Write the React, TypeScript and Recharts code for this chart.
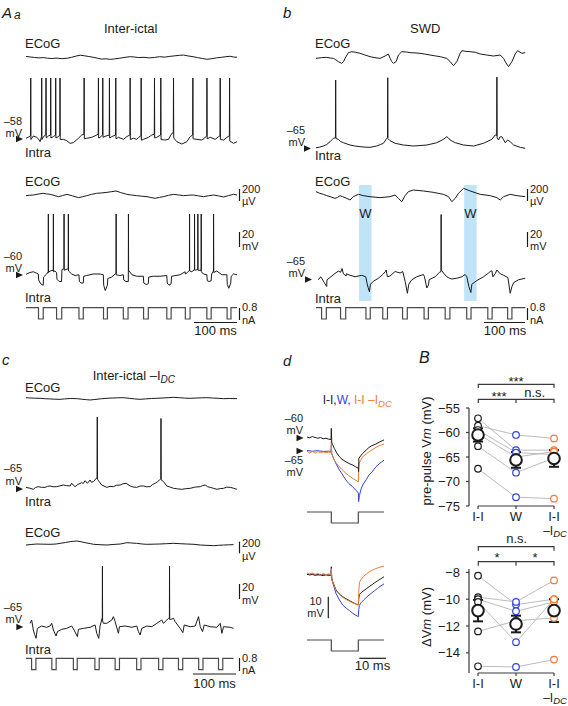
import {
  LineChart,
  Line,
  XAxis,
  YAxis,
  ReferenceArea,
  ReferenceLine,
  ComposedChart,
  Scatter,
  ErrorBar,
} from 'recharts'

const FONT = '"Liberation Sans", Arial, Helvetica, sans-serif'
const INK = '#1a1a1a'
const STIM = '#4a4a4a'
const BLUE = '#3344d6'
const ORANGE = '#ef7b35'
const BAND = '#c0e4f7'
const AX = '#3a3a3a'
const PAIR = '#bcbcbc'

type Pt = [number, number]

// ── A/b/c traces: time in ms, ECoG in µV, Intra in mV, current in nA ──
const aaEcogTop: Pt[] = [[0,10],[10,0],[20,-8],[30,-15],[40,-10],[50,-20],[60,-25],[72,-18],[84,-28],[96,-20],[106,-5],[116,15],[126,30],[136,20],[146,8],[156,-5],[166,-20],[176,-35],[186,-30],[196,-40],[206,-32],[218,-20],[230,-5],[242,5],[252,0],[262,-10],[274,-5],[286,-15],[298,-8],[310,5],[322,-2],[334,10],[346,20],[356,28],[366,32],[376,18],[388,5],[398,-10],[410,-25],[420,-38],[430,-30],[442,-15],[454,-5],[464,5],[474,12],[482,0],[490,-5]]

const aaIntraTop: Pt[] = [[0,-58.4],[5,-57],[10.5,-55],[11,22],[11.5,-60],[17,-55.3],[24.8,-57.1],[30,-60],[32.6,-62.9],[36,-56],[36.5,22],[37,-60],[40.3,-56.2],[46,-54],[46.5,22],[47,-58],[51.9,-55.3],[57,-54],[57.4,22],[57.9,-58],[63.6,-56.2],[68.5,-54],[69,22],[69.5,-58],[75.2,-56.2],[78.5,-54],[79,22],[79.5,-60],[86.8,-59.8],[94.6,-61.6],[102.3,-65.1],[110,-64.2],[121.7,-58.4],[129.4,-54],[134.5,-53],[135,22],[135.5,-59],[141,-58.4],[152.7,-57.1],[164.3,-54],[167.7,-53],[168.2,22],[168.7,-58],[172,-57.1],[177.8,-54],[178.3,22],[178.8,-57],[186,-55.3],[193.3,-54],[193.8,22],[194.3,-58],[199.2,-56.2],[208,-54],[208.5,22],[209,-59],[214.7,-57.1],[226.3,-59.8],[234,-56.2],[241.3,-54],[241.8,22],[242.3,-60],[249.6,-58.4],[257.3,-59.8],[262,-57],[267,-55],[267.4,22],[267.9,-61],[272.8,-59.8],[284.4,-57.1],[292.2,-54],[297.9,-53],[298.4,22],[298.9,-58],[303.8,-57.1],[312.6,-54],[313.1,22],[313.6,-60],[323.2,-60.7],[331,-59.8],[338.7,-51.8],[342.1,-51],[342.6,22],[343.1,-58],[350.3,-62.9],[361.9,-66],[373.6,-62.9],[381.3,-56.2],[387,-54],[387.5,22],[388,-59],[396.8,-59.8],[408.4,-60.7],[415,-58],[419.7,-55],[420.2,22],[420.7,-59],[427.8,-57.1],[439.4,-59.8],[447.2,-56.2],[450.5,-55],[451,22],[451.5,-60],[458.8,-60.7],[466.6,-57.1],[472.3,-55],[472.8,22],[473.3,-62],[482,-65.1],[490,-62.9]]

const aaEcogBot: Pt[] = [[0,-11],[8,-5],[17,0],[28,15],[40,28],[48,18],[56,11],[65,-5],[75,-28],[85,-10],[95,11],[108,-15],[122,-44],[131,-30],[141,-11],[152,10],[164,28],[176,35],[188,44],[198,55],[209,67],[220,40],[234,11],[245,0],[257,-11],[269,-20],[281,-28],[290,-42],[300,-55],[310,-40],[319,-28],[331,-5],[343,11],[355,0],[366,-11],[378,-3],[389,0],[400,-15],[412,-28],[424,-12],[436,0],[447,-15],[459,-33],[470,-10],[482,11],[490,0]]

const aaIntraBot: Pt[] = [[0,-60.4],[9,-58],[17,-57],[25,-59],[28.5,-60],[29.5,-68],[34,-73],[40,-75],[40.8,-64],[48,-60],[51.5,-57],[51.9,20],[52.3,-58],[56,-56],[63.3,-55],[63.6,20],[64,-57],[67,-56],[71,-58],[72,-67],[77,-70],[82.5,-70],[83.5,-54],[88,-53],[88.4,20],[88.8,-55],[93,-54],[98,-53],[98.4,20],[98.8,-56],[106,-60],[114,-62],[123,-61],[124,-70],[128,-72],[133,-72],[134,-63],[141,-62],[156,-60],[172,-60],[179.5,-61],[180.5,-75],[184,-82],[189,-75],[190,-66],[199,-64],[209,-59],[209.3,20],[209.7,-61],[218,-62],[226,-61],[227,-68],[232,-70],[237.6,-70],[237.9,20],[238.3,-55],[246,-61],[257,-63],[272.5,-63],[273.5,-72],[279,-74],[284,-73],[285,-64],[296,-63],[311,-63],[327,-62],[328,-72],[332,-75],[337,-73],[338,-63],[358,-61],[369.5,-57],[370,-60],[375,-58],[379.6,-55],[379.8,20],[380.1,-56],[385,-57],[391.2,-54],[391.4,20],[391.7,-55],[399,-54],[399.1,20],[399.4,-55],[406.7,-55],[406.9,20],[407.2,-57],[412,-60],[420,-61],[421,-69],[425,-70],[430,-69],[431,-60],[435.4,-56],[435.6,20],[436,-58],[443,-56],[455,-61],[466.5,-61],[467.5,-74],[471,-79],[475.5,-72],[476.5,-63],[482,-60],[491,-61]]

const aaStim: Pt[] = [[0,0],[29,0],[29,-0.8],[40,-0.8],[40,0],[71,0],[71,-0.8],[83,-0.8],[83,0],[123,0],[123,-0.8],[133,-0.8],[133,0],[180,0],[180,-0.8],[189,-0.8],[189,0],[226,0],[226,-0.8],[237,-0.8],[237,0],[273,0],[273,-0.8],[284,-0.8],[284,0],[327,0],[327,-0.8],[337,-0.8],[337,0],[370,0],[370,-0.8],[381,-0.8],[381,0],[420,0],[420,-0.8],[430,-0.8],[430,0],[467,0],[467,-0.8],[476,-0.8],[476,0],[490,0]]

const bEcogTop: Pt[] = [[0,-6],[12,5],[24.8,11],[33,0],[40.3,-6],[46,-30],[51.9,-61],[59.7,-89],[64,-60],[67.4,-6],[72,50],[75.2,89],[82.9,105],[92,95],[102.3,78],[114,50],[125.6,22],[137,5],[148.8,-6],[160.4,33],[168.2,67],[172,-6],[176,-60],[179.8,-89],[186,-61],[191.4,50],[199.2,105],[210,100],[218.6,89],[230,85],[241.8,78],[253,65],[265,50],[277,35],[288.3,22],[303.8,-6],[311.6,-61],[319.3,-128],[327,-61],[334.8,78],[338.7,122],[348,110],[358,105],[370,95],[381.3,67],[396,50],[412.3,33],[427.8,50],[435.6,-6],[441,-80],[447.2,-144],[454.9,-61],[462.7,67],[468.1,122],[478.2,78],[485.9,89]]

const bIntraTop: Pt[] = [[0,-63.3],[8,-62.5],[17,-61],[25,-59],[32.6,-55.3],[40.3,-50.8],[45.2,-50],[45.7,27],[46.2,-51],[51.9,-52.1],[57,-55],[63.6,-56.6],[79,-59.7],[90,-61],[102.3,-61.9],[114,-62.5],[125.6,-62.8],[141,-61],[150,-59],[156.6,-57.4],[162.8,-52.1],[166.1,-50],[166.6,30],[167.1,-51],[172,-53.9],[183.7,-57.4],[203,-59.7],[226.3,-61],[257.3,-59.7],[280.6,-56.6],[296,-52.1],[303.8,-48.6],[307,-50],[311.6,-53],[323.2,-56.6],[342.6,-59.7],[365.8,-61],[389,-57.4],[408.4,-52.1],[416.2,-46.3],[419.6,-47],[420.1,31],[420.6,-50],[424,-53],[427,-49],[431.7,-48.6],[435,-52],[439.4,-56.6],[445,-53],[451,-55.3],[458.8,-59.7],[474.3,-62.8],[485.9,-64.1]]

const bEcogBot: Pt[] = [[0,56],[8,30],[17,11],[25,-10],[32.6,-28],[44.2,-56],[50,-40],[55.8,-11],[62,-30],[67.4,-44],[74,-65],[79,-83],[86.8,-28],[98.4,11],[110,-11],[125.6,-28],[148.8,-44],[172,-28],[183.7,0],[191.4,-56],[199.2,-111],[206.9,-11],[214.7,56],[226.3,83],[249.6,67],[272.8,44],[296,11],[307.7,-28],[315.4,-111],[323.2,-56],[330.9,28],[342.6,111],[358,67],[381.3,11],[404.6,-11],[420,-44],[427.8,-83],[435.6,-28],[451,11],[466.6,-11],[485.9,-28]]

const bIntraBot: Pt[] = [[5.4,-66],[10.9,-62],[13.2,-64],[19.4,-70],[24.8,-75],[25.6,-66],[32.6,-63],[44.2,-57.5],[51.9,-54.5],[57.4,-56],[60.5,-51],[63.6,-58],[69.8,-61],[70.5,-58],[79,-60],[90.7,-62],[106.2,-60],[115.5,-62],[119.4,-73],[124,-82],[126.4,-72],[133.3,-68],[145,-64],[155,-59],[161.2,-55],[162.8,-53],[165.9,-62],[172,-61],[183.7,-55],[195.3,-57],[201.5,-55],[206.9,-68],[212.3,-84],[215.4,-72],[222.4,-66],[234,-62],[249.6,-59],[251.9,-62],[257.3,-77],[261.2,-73],[262.7,-66],[276.7,-62],[286.8,-56],[290.3,-55],[290.6,21],[291,-53],[296,-57],[303.8,-62],[310,-64],[315.4,-65],[327,-64],[338.7,-62],[346.4,-59],[350.3,-62],[355,-75],[359.6,-83],[361.9,-72],[373.6,-67],[389.1,-62],[400.7,-57],[404.6,-55],[408.4,-54],[410.7,-62],[416.2,-58],[420,-53],[427.8,-58],[435.6,-60],[445.6,-63],[451,-84],[455,-75],[458.8,-70],[470.4,-66],[485.9,-64]]

const bStim: Pt[] = [[0,0],[13,0],[13,-0.8],[24,-0.8],[24,0],[57,0],[57,-0.8],[69,-0.8],[69,0],[116,0],[116,-0.8],[126,-0.8],[126,0],[155,0],[155,-0.8],[166,-0.8],[166,0],[201,0],[201,-0.8],[212,-0.8],[212,0],[251,0],[251,-0.8],[261,-0.8],[261,0],[300,0],[300,-0.8],[311,-0.8],[311,0],[350,0],[350,-0.8],[360,-0.8],[360,0],[399,0],[399,-0.8],[409,-0.8],[409,0],[445,0],[445,-0.8],[455,-0.8],[455,0],[486,0]]

// W windows on the SWD trace (ms)
const wStart = [100, 344]
const wEnd = [129, 373]

const cEcogTop: Pt[] = [[0,5],[10,0],[20,-3],[32.6,-5],[45,-12],[55,-15],[67,-20],[79,-22],[90,-15],[104,-8],[118,-11],[130,-20],[140,-28],[149,-33],[160,-25],[175,-12],[188,-5],[200,0],[213,3],[226,5],[240,-5],[252,-15],[265,-22],[278,-15],[291,-8],[304,-5],[316,0],[330,5],[343,11],[356,5],[368,-2],[381,-5],[395,0],[408,3],[420,5],[433,0],[446,-5],[459,-11],[472,-8],[490,-11]]

const cIntraTop: Pt[] = [[0,-62.8],[8,-63.8],[17,-65.4],[22,-63],[28.7,-61.9],[36,-62.8],[44.2,-62.8],[50,-61.5],[55.8,-61],[63,-62],[71.3,-61.9],[78,-61],[86.8,-59.7],[94,-60.5],[102.3,-61],[106.2,-57.4],[110,-60],[113.9,-61.9],[120,-59],[129.4,-56.6],[133,-57.5],[137.2,-53.9],[142.6,-57.4],[148.8,-53],[152,-56],[156.6,-55.2],[160,-53],[162.8,-50.8],[165,-50.5],[165.5,31],[166,-52],[168.2,-53.9],[175.9,-59.7],[187.6,-62.8],[195,-61.5],[203,-61.9],[210,-60],[218.6,-59.7],[225,-58],[232.5,-57.4],[241.8,-61],[250,-62.5],[257.3,-62.8],[265,-61],[272.8,-61],[280,-62],[288.3,-61.9],[294,-59],[299.9,-57.4],[306,-55],[310,-53],[313,-51.5],[313.5,29],[314,-53],[319.3,-55.2],[327,-61],[335,-62.5],[342.6,-64.1],[352,-64.8],[361.9,-65.4],[371,-64.6],[381.3,-64.1],[392,-62.5],[404.6,-61.9],[410,-60.5],[416.2,-59.7],[422,-62],[427.8,-62.8],[435,-64],[443.3,-65.4],[451,-64.5],[458.8,-64.1],[466,-62.5],[474.3,-62.8],[482,-64],[489.8,-65.4]]

const cEcogBot: Pt[] = [[0,-17],[12,-8],[24.8,0],[40,-3],[55.8,-5],[70,0],[79,11],[92,25],[102.3,39],[110,45],[118,50],[128,38],[137.2,22],[150,5],[157,-5],[172,-12],[188,-17],[202,-8],[219,0],[234,22],[243,18],[257,11],[270,0],[280,-5],[300,-2],[311,0],[326,5],[342,11],[358,5],[373,0],[390,-5],[405,-17],[418,-22],[436,-28],[447,-22],[459,-17],[470,-14],[482,-11]]

const cIntraBot: Pt[] = [[9.3,-60.1],[13.2,-55.7],[17,-69],[20,-75],[23.3,-80.1],[26.4,-66.8],[36.4,-63.7],[48,-65.4],[55.8,-63.7],[59.7,-60.1],[63.6,-69],[69.8,-77],[72.9,-71.2],[82.9,-68.1],[94.6,-66.8],[106.2,-63.7],[111.6,-69],[119.4,-77.9],[121.7,-68.1],[133.3,-66.8],[148.8,-65.4],[160.4,-62.3],[164.3,-73.4],[169,-80.1],[172,-63.7],[176.7,-53.4],[177.2,-53],[177.5,16],[177.9,-57],[179.8,-60.1],[187.6,-60.1],[199.2,-55.7],[203,-51.2],[206.9,-57.9],[214.7,-73.4],[217,-64.6],[230.2,-63.7],[245.7,-65.4],[257.3,-63.7],[261.2,-71.2],[265,-75.7],[268.9,-66.8],[280.6,-63.7],[292.2,-64.6],[303.8,-60.1],[315.4,-55.7],[319.3,-60.1],[327,-55.7],[330.9,-53.4],[333,-53],[333.3,16],[333.7,-55],[336.4,-54.8],[342.6,-53.4],[346.4,-57.9],[358,-66.8],[364.3,-72.6],[367.4,-62.3],[381.3,-64.6],[392.9,-63.7],[400.7,-51.2],[404.6,-64.6],[410,-71.2],[413.9,-62.3],[427.8,-64.6],[443.3,-65.4],[451,-60.1],[454.9,-73.4],[458.8,-64.6],[474.3,-65.4],[482,-66.8]]

const cStim: Pt[] = [[0,0],[13,0],[13,-0.8],[23,-0.8],[23,0],[60,0],[60,-0.8],[70,-0.8],[70,0],[110,0],[110,-0.8],[119,-0.8],[119,0],[160,0],[160,-0.8],[170,-0.8],[170,0],[207,0],[207,-0.8],[217,-0.8],[217,0],[257,0],[257,-0.8],[267,-0.8],[267,0],[308,0],[308,-0.8],[318,-0.8],[318,0],[354,0],[354,-0.8],[364,-0.8],[364,0],[401,0],[401,-0.8],[411,-0.8],[411,0],[447,0],[447,-0.8],[457,-0.8],[457,0],[482,0]]

// ── d: averaged responses to the current step (ms, mV) ──
const dTopBlack: Pt[] = [[-9,-59.6],[-8,-59.9],[-7,-59.4],[-6,-59.8],[-5,-60.1],[-4,-59.8],[-3,-60.3],[-2,-60.1],[-1,-60.5],[-0.1,-60.6],[0,-56],[0.15,-61.8],[0.5,-62.8],[1.1,-64.3],[2,-66.2],[3,-67.8],[4,-68.9],[5.4,-69.9],[6.5,-70.6],[7.9,-71.3],[9,-72],[10,-72.6],[10.1,-74],[10.2,-68.5],[11,-67.2],[11.6,-66.4],[13,-64.9],[14,-63.9],[15,-63.2],[16.5,-62.5],[18,-61.6],[19.5,-60.8]]
const dTopOrange: Pt[] = [[-9,-65.5],[-8,-66.2],[-7,-65.6],[-6,-66.3],[-5,-65.7],[-4,-66.1],[-3,-65.8],[-2,-66.2],[-1,-65.9],[-0.1,-66],[0,-61.5],[0.15,-66.8],[0.5,-67.6],[1.1,-69.2],[2,-70.8],[3,-72],[4,-73.2],[5.4,-74.7],[6.5,-75.7],[7.9,-76.8],[9,-77.6],[10,-78.2],[10.1,-74],[10.3,-70.5],[11,-69],[11.6,-67.8],[13,-66.6],[14,-65.7],[15,-65],[16.5,-63.9],[18,-63.1],[19.5,-62.5]]
const dTopBlue: Pt[] = [[-9,-65.2],[-7,-65.5],[-5,-65.3],[-3,-65.6],[-1,-65.5],[-0.1,-65.6],[0,-63],[0.15,-66.5],[0.5,-67.5],[1.1,-69.2],[2,-71.3],[3,-73.3],[4,-75],[5.4,-77.5],[6.5,-79],[7.9,-80.3],[9,-81.7],[10,-82.8],[10.1,-86.5],[10.4,-84],[11,-81.3],[11.6,-79.6],[13,-77.2],[14,-75.4],[15,-74.2],[16.5,-72],[18,-70.5],[19.5,-69.2]]
const dBotBlack: Pt[] = [[-9,0.4],[-8,0],[-7,0.3],[-6,-0.2],[-5,0.2],[-4,0],[-3,-0.3],[-2,0.1],[-1,-0.2],[-0.1,0],[0,3.8],[0.15,-1.5],[0.5,-3],[1,-4.5],[1.7,-6.9],[3,-8.8],[4.2,-10],[5.5,-11],[6.7,-11.8],[8,-12.7],[9,-13.3],[10,-13.8],[10.15,-11],[10.4,-9],[11,-8.2],[12,-7.2],[13,-6.3],[14,-5.4],[15,-4.5],[16,-3.6],[17,-2.8],[18,-2],[19.5,-0.8]]
const dBotOrange: Pt[] = [[-9,1],[-8,0.3],[-7,0.9],[-6,0.2],[-5,0.8],[-4,0],[-3,0.6],[-2,0.2],[-1,0.5],[-0.1,0.2],[0,3],[0.15,-1.8],[0.5,-3.2],[1,-4.8],[1.7,-7.1],[3,-9],[4.2,-10.3],[5.5,-11.3],[6.7,-12.1],[8,-12.9],[9,-13.4],[10,-13.8],[10.15,-8],[10.4,-3.5],[11,-2],[12,-0.6],[13,0.5],[14,1.4],[15,2.1],[16,2.7],[17,3.2],[18,3.6],[19.5,4.1]]
const dBotBlue: Pt[] = [[-9,0.2],[-7,0.5],[-5,0],[-3,0.3],[-1,0.1],[-0.1,0],[0,2.5],[0.15,-1.8],[0.5,-3.5],[1,-5.5],[1.7,-8.4],[3,-11.5],[4.2,-13.8],[5.5,-15.3],[6.7,-16.4],[8,-17.7],[9,-18.5],[10,-19.2],[10.15,-16],[10.4,-14],[11,-12.8],[12,-11.5],[13,-10.3],[14,-9.2],[15,-8.2],[16,-7.2],[17,-6.3],[18,-5.3],[19.5,-4.1]]
const dStep: Pt[] = [[-9,0],[0,0],[0,-1],[10,-1],[10,0],[19.5,0]]

// ── B: per-cell values (I-I, W, I-I −IDC) ──
const groups = ['I-I', 'W', 'I-I']
const vmII = [-57.1, -58.6, -59.5, -60.3, -62.8, -67.4]
const vmW = [-63.6, -60.5, -64.1, -65.0, -68.2, -73.2]
const vmDC = [-63.6, -61.2, -64.5, -63.9, -65.2, -73.5]
const vmMean = [-60.5, -65.6, -65.3]
const vmSem = [1.35, 1.6, 1.7]
const dvII = [-8.25, -9.85, -10.0, -10.2, -12.4, -15.0]
const dvW = [-10.4, -10.2, -10.9, -13.2, -11.6, -15.05]
const dvDC = [-10.0, -8.6, -10.2, -10.0, -11.4, -14.5]
const dvMean = [-10.85, -11.85, -10.85]
const dvSem = [0.8, 0.62, 0.85]

const MS: [number, number] = [0, 490]
const D_MS: [number, number] = [-9, 19.5]

type Series = { pts: Pt[]; color?: string; width?: number }

function Trace({
  left, top, width = 211, height, xDom = MS, anchor, k, series, children,
}: {
  left: number; top: number; width?: number; height: number; xDom?: [number, number]
  anchor: [number, number]; k: number; series: Series[]; children?: React.ReactNode
}) {
  const [v0, y0] = anchor
  const yDom: [number, number] = [v0 - (top + height - y0) / k, v0 + (y0 - top) / k]
  return (
    <div style={{ position: 'absolute', left, top }}>
      <LineChart width={width} height={height} margin={{ top: 0, right: 0, bottom: 0, left: 0 }}>
        <XAxis type="number" dataKey="t" domain={xDom} hide allowDataOverflow />
        <YAxis type="number" domain={yDom} hide allowDataOverflow />
        {children}
        {series.map((s, i) => (
          <Line
            key={i}
            data={s.pts.map(([t, v]) => ({ t, v }))}
            dataKey="v"
            type="linear"
            stroke={s.color ?? INK}
            strokeWidth={s.width ?? 1}
            dot={false}
            activeDot={false}
            isAnimationActive={false}
          />
        ))}
      </LineChart>
    </div>
  )
}

const ring = (color: string, r: number, sw = 1.2) =>
  // eslint-disable-next-line @typescript-eslint/no-explicit-any
  (p: any) => <circle cx={p.cx} cy={p.cy} r={r} fill="#fff" stroke={color} strokeWidth={sw} />

// eslint-disable-next-line @typescript-eslint/no-explicit-any
function GroupTick({ x, y, payload }: any) {
  const i = payload.value as number
  return (
    <text fontFamily={FONT} fontSize={13} fill={INK} textAnchor="middle">
      <tspan x={x} y={y + 9}>{groups[i]}</tspan>
      {i === 2 && <tspan x={x + 1} y={y + 23} fontSize={12}>–I</tspan>}
      {i === 2 && <tspan fontSize={9.5} fontStyle="italic" dy={2}>DC</tspan>}
    </text>
  )
}

function StatPlot({
  top, plotH, xH, yDom, ticks, a, b, c, mean, sem,
}: {
  top: number; plotH: number; xH: number; yDom: [number, number]; ticks: number[]
  a: number[]; b: number[]; c: number[]; mean: number[]; sem: number[]
}) {
  const cells = a.map((_, i) => [{ x: 0, y: a[i] }, { x: 1, y: b[i] }, { x: 2, y: c[i] }])
  return (
    <div style={{ position: 'absolute', left: 400, top }}>
      <ComposedChart width={168} height={8 + plotH + xH} margin={{ top: 8, right: 6, bottom: 0, left: 0 }}>
        <XAxis
          type="number" dataKey="x" domain={[-0.237, 2.21]} ticks={[0, 1, 2]} interval={0}
          axisLine={false} tickSize={3} tickMargin={3} tickLine={{ stroke: AX, strokeWidth: 1.2 }}
          tick={GroupTick} height={xH} allowDataOverflow
        />
        <YAxis
          type="number" dataKey="y" domain={yDom} ticks={ticks} width={69} interval={0}
          tickSize={3} tickMargin={6}
          axisLine={{ stroke: AX, strokeWidth: 1.2 }} tickLine={{ stroke: AX, strokeWidth: 1.2 }}
          tick={{ fontSize: 13, fill: INK, fontFamily: FONT }}
          tickFormatter={(v: number) => String(v).replace('-', '−')}
          allowDataOverflow
        />
        <ReferenceLine segment={[{ x: 0, y: yDom[0] }, { x: 2, y: yDom[0] }]} stroke={AX} strokeWidth={1.2} />
        {cells.map((d, i) => (
          <Line key={i} data={d} dataKey="y" type="linear" stroke={PAIR} strokeWidth={1}
            dot={false} activeDot={false} isAnimationActive={false} />
        ))}
        <Scatter data={a.map((y) => ({ x: 0, y }))} shape={ring(INK, 3.3)} isAnimationActive={false} />
        <Scatter data={b.map((y) => ({ x: 1, y }))} shape={ring(BLUE, 3.3)} isAnimationActive={false} />
        <Scatter data={c.map((y) => ({ x: 2, y }))} shape={ring(ORANGE, 3.3)} isAnimationActive={false} />
        <Scatter data={mean.map((y, i) => ({ x: i, y, e: sem[i] }))} shape={ring(INK, 5.8, 2)} isAnimationActive={false}>
          <ErrorBar dataKey="e" direction="y" width={5} strokeWidth={2} stroke={INK} />
        </Scatter>
      </ComposedChart>
    </div>
  )
}

const arrow = (tx: number, ty: number) => (
  <polygon points={`${tx - 7},${ty - 3.2} ${tx},${ty} ${tx - 7},${ty + 3.2}`} fill={INK} />
)

// two stacked labels (e.g. "–58" over "mV"), centred on cy
const stack = (x: number, cy: number, a: string, b: string, anchor = 'end', size = 11) => {
  const gap = size * 1.13
  return (
    <text textAnchor={anchor} fontSize={size}>
      <tspan x={x} y={cy - gap / 2 + size * 0.36}>{a}</tspan>
      <tspan x={x} y={cy + gap / 2 + size * 0.36}>{b}</tspan>
    </text>
  )
}

export default function App() {
  const ecog = 0.06 // px per µV
  const vm = 0.75 // px per mV
  const nA = 14.1 // px per nA
  return (
    <div style={{ position: 'absolute', left: 0, top: 0, width: 568, height: 706, overflow: 'hidden', background: '#fff', fontFamily: FONT }}>
      {/* Aa */}
      <Trace left={26} top={45} height={24} anchor={[0, 57]} k={ecog} series={[{ pts: aaEcogTop }]} />
      <Trace left={26} top={70} height={82} anchor={[-58, 138]} k={vm} series={[{ pts: aaIntraTop }]} />
      <Trace left={26} top={183} height={24} anchor={[0, 195]} k={ecog} series={[{ pts: aaEcogBot }]} />
      <Trace left={26} top={205} height={95} anchor={[-60, 274]} k={vm} series={[{ pts: aaIntraBot }]} />
      <Trace left={26} top={304} height={20} anchor={[0, 307.7]} k={nA} series={[{ pts: aaStim, color: STIM, width: 1.2 }]} />

      {/* b */}
      <Trace left={316} top={45} height={24} anchor={[0, 58]} k={ecog} series={[{ pts: bEcogTop }]} />
      <Trace left={316} top={70} height={85} anchor={[-65, 149]} k={vm} series={[{ pts: bIntraTop }]} />
      <Trace left={316} top={185} height={116} anchor={[-65, 279]} k={vm} series={[{ pts: bIntraBot }]}>
        {wStart.map((s, i) => (
          <ReferenceArea key={i} x1={s} x2={wEnd[i]} fill={BAND} fillOpacity={1} stroke="none" ifOverflow="visible" />
        ))}
      </Trace>
      <Trace left={316} top={183} height={24} anchor={[0, 195]} k={ecog} series={[{ pts: bEcogBot }]} />
      <Trace left={316} top={304} height={20} anchor={[0, 307.7]} k={nA} series={[{ pts: bStim, color: STIM, width: 1.2 }]} />

      {/* c */}
      <Trace left={26} top={386} height={24} anchor={[0, 398]} k={ecog} series={[{ pts: cEcogTop }]} />
      <Trace left={26} top={405} height={95} anchor={[-65, 489]} k={vm} series={[{ pts: cIntraTop }]} />
      <Trace left={26} top={532} height={24} anchor={[0, 544]} k={ecog} series={[{ pts: cEcogBot }]} />
      <Trace left={26} top={555} height={90} anchor={[-65, 627]} k={vm} series={[{ pts: cIntraBot }]} />
      <Trace left={26} top={654} height={20} anchor={[0, 658.3]} k={nA} series={[{ pts: cStim, color: STIM, width: 1.2 }]} />

      {/* d */}
      <Trace left={307} width={77} xDom={D_MS} top={412} height={96} anchor={[-60, 438]} k={2.4}
        series={[{ pts: dTopBlue, color: BLUE }, { pts: dTopOrange, color: ORANGE }, { pts: dTopBlack }]} />
      <Trace left={307} width={77} xDom={D_MS} top={508} height={18} anchor={[0, 512]} k={11}
        series={[{ pts: dStep, color: STIM, width: 1.2 }]} />
      <Trace left={307} width={77} xDom={D_MS} top={560} height={60} anchor={[0, 575]} k={2.17}
        series={[{ pts: dBotBlue, color: BLUE }, { pts: dBotBlack }, { pts: dBotOrange, color: ORANGE }]} />
      <Trace left={307} width={77} xDom={D_MS} top={636} height={18} anchor={[0, 640]} k={11}
        series={[{ pts: dStep, color: STIM, width: 1.2 }]} />

      {/* B */}
      <StatPlot top={400} plotH={98} xH={40} yDom={[-75, -55]} ticks={[-75, -70, -65, -60, -55]}
        a={vmII} b={vmW} c={vmDC} mean={vmMean} sem={vmSem} />
      <StatPlot top={561} plotH={104} xH={33} yDom={[-15.5, -7.75]} ticks={[-14, -12, -10, -8]}
        a={dvII} b={dvW} c={dvDC} mean={dvMean} sem={dvSem} />

      {/* labels, scale bars, markers */}
      <svg width={568} height={706} style={{ position: 'absolute', left: 0, top: 0, pointerEvents: 'none' }}
        fontFamily={FONT} fontSize={13} fill={INK}>
        {/* panel letters */}
        <text fontStyle="italic">
          <tspan x={2} y={17.5} fontSize={15}>A</tspan>
          <tspan x={14} y={19} fontSize={12}>a</tspan>
        </text>
        <text x={283} y={18} fontSize={15} fontStyle="italic">b</text>
        <text x={2} y={365} fontSize={15} fontStyle="italic">c</text>
        <text x={283} y={365.7} fontSize={15} fontStyle="italic">d</text>
        <text x={419} y={363.3} fontSize={16} fontStyle="italic">B</text>

        {/* Aa */}
        <text x={104} y={33}>Inter-ictal</text>
        <text x={25} y={48}>ECoG</text>
        {stack(22, 127, '–58', 'mV')}
        {arrow(23, 139)}
        <text x={25} y={157}>Intra</text>
        <text x={25} y={186}>ECoG</text>
        {stack(22, 262, '–60', 'mV')}
        {arrow(23, 275)}
        <text x={25} y={302}>Intra</text>
        <g stroke={INK} strokeWidth={1.2}>
          <line x1={239.5} x2={239.5} y1={189} y2={201} />
          <line x1={239.5} x2={239.5} y1={232} y2={247} />
          <line x1={239.5} x2={239.5} y1={308} y2={320} />
          <line x1={194} x2={237} y1={322.5} y2={322.5} />
        </g>
        {stack(242, 195, '200', 'µV', 'start')}
        {stack(242, 240, '20', 'mV', 'start')}
        {stack(242, 313.5, '0.8', 'nA', 'start')}
        <text x={215.5} y={335} textAnchor="middle">100 ms</text>

        {/* b */}
        <text x={410} y={33}>SWD</text>
        <text x={315} y={48}>ECoG</text>
        {stack(305, 136, '–65', 'mV')}
        {arrow(311, 148.5)}
        <text x={315} y={160}>Intra</text>
        <text x={315} y={185.7}>ECoG</text>
        <text x={365.3} y={218} textAnchor="middle">W</text>
        <text x={470.3} y={218} textAnchor="middle">W</text>
        {stack(305, 267, '–65', 'mV')}
        {arrow(312, 279.5)}
        <text x={315} y={303}>Intra</text>
        <g stroke={INK} strokeWidth={1.2}>
          <line x1={527.5} x2={527.5} y1={189} y2={201} />
          <line x1={527.5} x2={527.5} y1={232} y2={247} />
          <line x1={527.5} x2={527.5} y1={308} y2={320} />
          <line x1={484} x2={525} y1={322.5} y2={322.5} />
        </g>
        {stack(530, 195, '200', 'µV', 'start')}
        {stack(530, 240, '20', 'mV', 'start')}
        {stack(530, 313.5, '0.8', 'nA', 'start')}
        <text x={505} y={335} textAnchor="middle">100 ms</text>

        {/* c */}
        <text x={92.7} y={379.5}>
          Inter-ictal –I<tspan fontSize={10} fontStyle="italic" dy={3}>DC</tspan>
        </text>
        <text x={25} y={391.7}>ECoG</text>
        {stack(22, 474.5, '–65', 'mV')}
        {arrow(23, 489)}
        <text x={25} y={506}>Intra</text>
        <text x={25} y={537}>ECoG</text>
        {stack(22, 613, '–65', 'mV')}
        {arrow(23.3, 627)}
        <text x={25} y={654}>Intra</text>
        <g stroke={INK} strokeWidth={1.2}>
          <line x1={239.5} x2={239.5} y1={541.7} y2={553.3} />
          <line x1={239.5} x2={239.5} y1={584} y2={599} />
          <line x1={239.5} x2={239.5} y1={658} y2={671} />
          <line x1={193} x2={236} y1={674} y2={674} />
        </g>
        {stack(242, 549.5, '200', 'µV', 'start')}
        {stack(242, 593.5, '20', 'mV', 'start')}
        {stack(242, 664, '0.8', 'nA', 'start')}
        <text x={214.5} y={688} textAnchor="middle">100 ms</text>

        {/* d */}
        <text x={322.7} y={404} fontSize={12}>
          <tspan fill={INK}>I-I,</tspan>
          <tspan fill={BLUE}>W, </tspan>
          <tspan fill={ORANGE}>I-I –I</tspan>
          <tspan fill={ORANGE} fontSize={9.5} fontStyle="italic" dy={3}>DC</tspan>
        </text>
        {stack(303, 424, '–60', 'mV')}
        {arrow(303.5, 438)}
        {arrow(303.5, 451)}
        {stack(303, 466, '–65', 'mV')}
        {stack(315.5, 607, '10', 'mV', 'middle')}
        <g stroke={INK} strokeWidth={1.2}>
          <line x1={328.3} x2={328.3} y1={596.7} y2={618.3} />
          <line x1={359.3} x2={386} y1={658.3} y2={658.3} />
        </g>
        <text x={372.5} y={670} textAnchor="middle">10 ms</text>

        {/* B: significance brackets and axis titles */}
        <g stroke={AX} strokeWidth={1.2} fill="none">
          <path d="M478.3,388 V384.3 H554 V388" />
          <path d="M478.3,403 V399.3 H554 V403 M516,399.3 V403" />
          <path d="M478.3,550.7 V546.7 H554 V550.7" />
          <path d="M478.3,565.7 V561.7 H554 V565.7 M516,561.7 V565.7" />
        </g>
        <text x={516} y={385.5} textAnchor="middle">***</text>
        <text x={499} y={400.5} textAnchor="middle">***</text>
        <text x={534.7} y={396.7} textAnchor="middle">n.s.</text>
        <text x={516.7} y={543.3} textAnchor="middle">n.s.</text>
        <text x={497} y={562} textAnchor="middle">*</text>
        <text x={535} y={562} textAnchor="middle">*</text>
        <text transform="translate(431,451) rotate(-90)" textAnchor="middle">
          pre-pulse V<tspan fontStyle="italic">m</tspan> (mV)
        </text>
        <text transform="translate(431,617) rotate(-90)" textAnchor="middle">
          ΔV<tspan fontStyle="italic">m</tspan> (mV)
        </text>
      </svg>
    </div>
  )
}
